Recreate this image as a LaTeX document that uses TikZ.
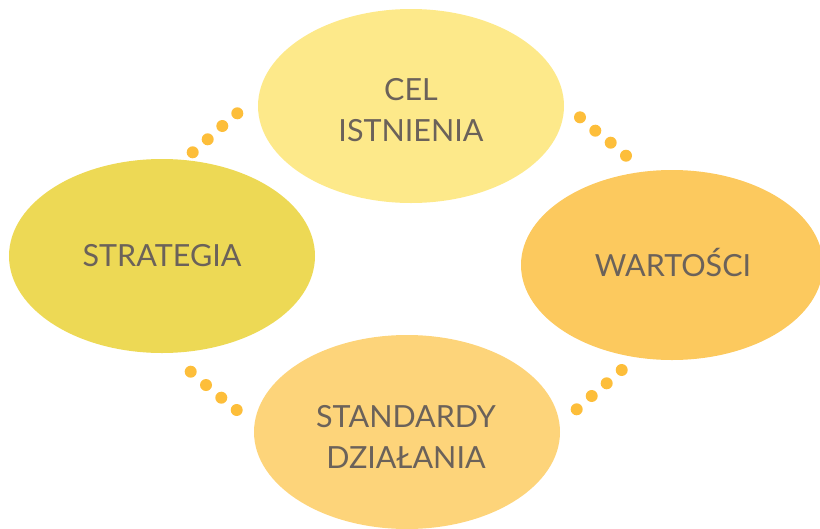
\documentclass[tikz,border=0pt]{standalone}
\usepackage{fontspec}
\setmainfont{Lato}
\usetikzlibrary{shapes.geometric}
\definecolor{cTop}{HTML}{FDE98A}
\definecolor{cLeft}{HTML}{EDD955}
\definecolor{cRight}{HTML}{FCC95E}
\definecolor{cBottom}{HTML}{FDD47A}
\definecolor{cDot}{HTML}{FDBE3A}
\definecolor{cText}{HTML}{6B625A}
\tikzset{
  blob/.style={ellipse, inner sep=0pt, minimum width=306pt, minimum height=194pt},
  lbl/.style={text=cText, font=\fontsize{30.5}{41}\selectfont, align=center, inner sep=0pt},
  dotc/.style={fill=cDot}
}
\begin{document}
\begin{tikzpicture}[x=1pt,y=-1pt]
\useasboundingbox (0,0) rectangle (820,528);
\node[blob, fill=cTop] (cel) at (411,106) {};
\node[blob, fill=cLeft] (str) at (162,256) {};
\node[blob, fill=cRight, minimum width=302pt, minimum height=190pt] (war) at (672,265) {};
\node[blob, fill=cBottom] (std) at (407,432) {};
\node[lbl] (celt) at (411,110) {CEL\\ISTNIENIA};
\node[lbl] (strt) at (162,256) {STRATEGIA};
\node[lbl] (wart) at (673,262) {WARTOŚCI};
\node[lbl] (stdt) at (406,437) {STANDARDY\\DZIAŁANIA};
\foreach \p in {(192.7,152.3),(207.7,139.3),(222.3,126),(237.3,113.3),
                (580,117.3),(595.3,130.7),(610.7,142.7),(626,155.7),
                (190.7,371.7),(206,385),(221.3,397.7),(236.7,410),
                (621.7,370),(606.7,383.3),(591.7,396),(576.7,409.3)}
  \fill[dotc] \p circle (6);
\end{tikzpicture}
\end{document}
